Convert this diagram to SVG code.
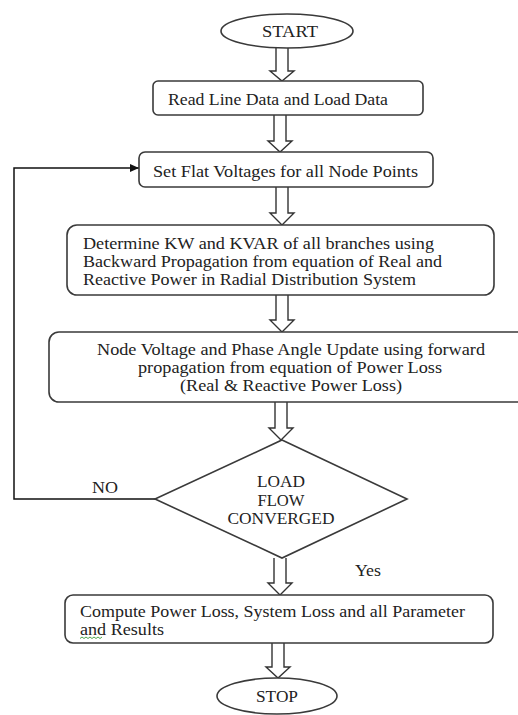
<svg xmlns="http://www.w3.org/2000/svg" width="518" height="715" viewBox="0 0 518 715">
<defs>
<style>
.box{fill:#fff;stroke:#3a3a3a;stroke-width:1.6}
.blk{fill:#fff;stroke:#333;stroke-width:1.4;stroke-linejoin:miter}
.t{font-family:"Liberation Serif","Times New Roman",serif;font-size:17px;fill:#222}
.m{text-anchor:middle}
.ln{fill:none;stroke:#111;stroke-width:1.5}
</style>
<marker id="ah" markerWidth="10" markerHeight="8" refX="9" refY="4" orient="auto" markerUnits="userSpaceOnUse">
<path d="M0,0 L9,4 L0,8 Z" fill="#111"/>
</marker>
</defs>
<rect width="518" height="715" fill="#fff"/>

<g id="connectors">
<path class="ln" d="M155,499 H14 V168 H139" marker-end="url(#ah)"/>
<path class="blk" d="M276,48 V71 H270 L282,81 L294,71 H288 V48"/>
<path class="blk" d="M274,115 V141 H268 L280,152 L292,141 H286 V115"/>
<path class="blk" d="M276,187 V213 H270 L282,225 L294,213 H288 V187"/>
<path class="blk" d="M276,295 V320 H270 L282,332 L294,320 H288 V295"/>
<path class="blk" d="M275,402 V428 H269 L281,440 L293,428 H287 V402"/>
<path class="blk" d="M274,558 V583 H268 L280,595 L292,583 H286 V558"/>
<path class="blk" d="M272,643 V667 H266 L278,678 L290,667 H284 V643"/>
</g>

<g id="start">
<ellipse class="box" cx="287" cy="31" rx="66" ry="17"/>
<text class="t m" x="290" y="37" textLength="56" lengthAdjust="spacingAndGlyphs">START</text>
</g>

<g id="read">
<rect class="box" x="153" y="81" width="270" height="34" rx="5"/>
<text class="t" x="168" y="105" textLength="220" lengthAdjust="spacingAndGlyphs">Read Line Data and Load Data</text>
</g>

<g id="setflat">
<rect class="box" x="139" y="152" width="294" height="35" rx="6"/>
<text class="t" x="153" y="177" textLength="265" lengthAdjust="spacingAndGlyphs">Set Flat Voltages for  all Node Points</text>
</g>

<g id="determine">
<rect class="box" x="67" y="225" width="427" height="70" rx="10"/>
<text class="t" x="83" y="249" textLength="351" lengthAdjust="spacingAndGlyphs">Determine KW and KVAR of all branches  using</text>
<text class="t" x="83" y="267" textLength="359" lengthAdjust="spacingAndGlyphs">Backward Propagation from equation of Real and</text>
<text class="t" x="83" y="285" textLength="333" lengthAdjust="spacingAndGlyphs">Reactive Power in Radial Distribution System</text>
</g>

<g id="nodeupdate">
<rect class="box" x="49" y="332" width="490" height="70" rx="10"/>
<text class="t m" x="291" y="355" textLength="388" lengthAdjust="spacingAndGlyphs">Node Voltage and Phase Angle Update using forward</text>
<text class="t m" x="290" y="373" textLength="304" lengthAdjust="spacingAndGlyphs">propagation from equation of Power Loss</text>
<text class="t m" x="291" y="391" textLength="222" lengthAdjust="spacingAndGlyphs">(Real &amp; Reactive Power Loss)</text>
</g>

<g id="decision">
<path class="box" d="M282,440 L407,499 L282,558 L155,499 Z"/>
<text class="t m" x="281" y="487" textLength="48" lengthAdjust="spacingAndGlyphs">LOAD</text>
<text class="t m" x="281" y="506" textLength="47" lengthAdjust="spacingAndGlyphs">FLOW</text>
<text class="t m" x="281" y="524" textLength="107" lengthAdjust="spacingAndGlyphs">CONVERGED</text>
</g>

<g id="labels">
<text class="t" x="92" y="493" textLength="26" lengthAdjust="spacingAndGlyphs">NO</text>
<text class="t" x="355" y="576" textLength="26" lengthAdjust="spacingAndGlyphs">Yes</text>
</g>

<g id="compute">
<rect class="box" x="65" y="595" width="428" height="48" rx="8"/>
<text class="t" x="80" y="617" textLength="385" lengthAdjust="spacingAndGlyphs">Compute Power Loss, System Loss  and all Parameter</text>
<text class="t" x="80" y="635" textLength="84" lengthAdjust="spacingAndGlyphs">and Results</text>
<path d="M80,638.5 l2,-1.5 l2,1.5 l2,-1.5 l2,1.5 l2,-1.5 l2,1.5 l2,-1.5 l2,1.5 l2,-1.5 l2,1.5 l2,-1.5" fill="none" stroke="#3a9a3a" stroke-width="0.9"/>
</g>

<g id="stop">
<ellipse class="box" cx="277" cy="696" rx="60" ry="18"/>
<text class="t m" x="277" y="702" textLength="42" lengthAdjust="spacingAndGlyphs">STOP</text>
</g>
</svg>
